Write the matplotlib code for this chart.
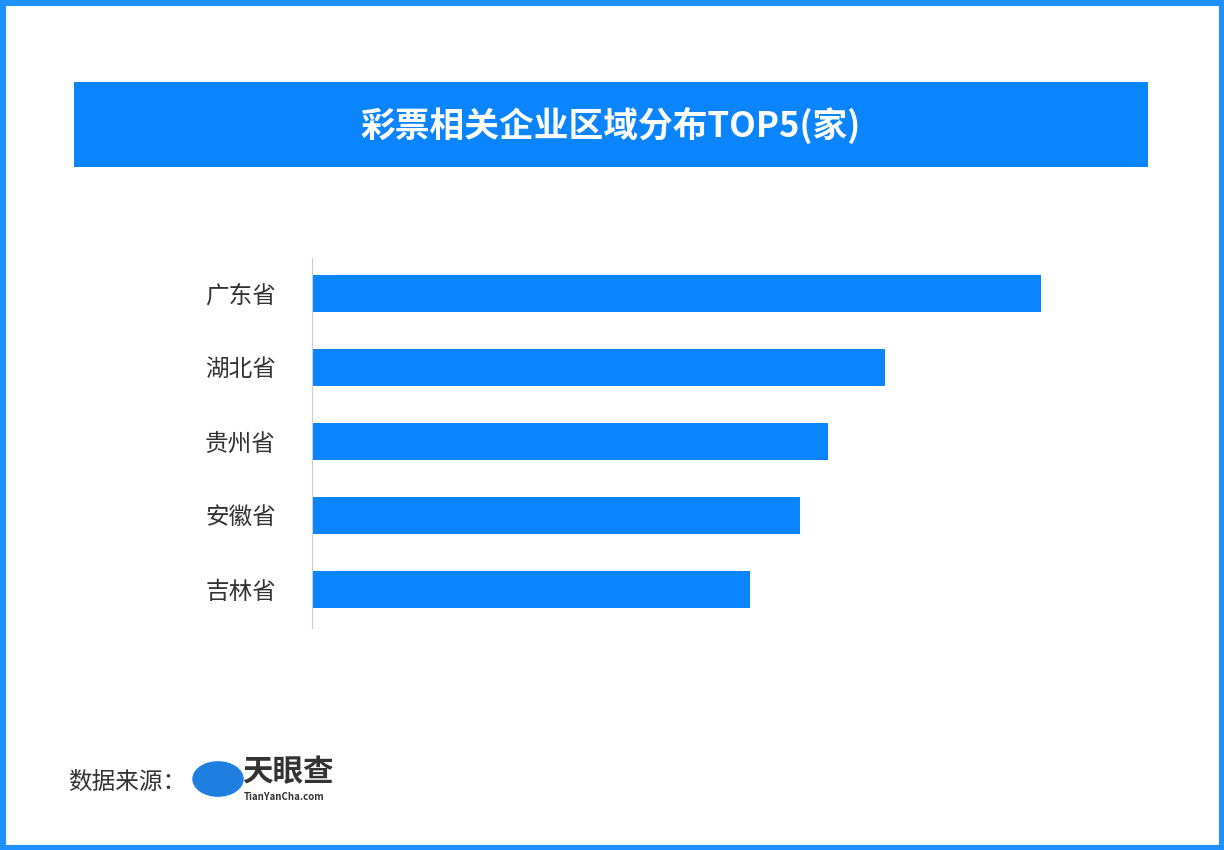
import matplotlib
matplotlib.use("Agg")
import matplotlib.pyplot as plt
from matplotlib.patches import Rectangle, Circle

plt.rcParams['font.family'] = ['Noto Sans CJK SC', 'DejaVu Sans']

categories = ['广东省', '湖北省', '贵州省', '安徽省', '吉林省']
values = [729, 573, 516, 488, 438]
title = '彩票相关企业区域分布TOP5(家)'
blue = '#0A84FF'

W, H = 1224, 850
fig = plt.figure(figsize=(W/100, H/100), dpi=100)
fig.patches.append(Rectangle((0, 0), 1, 1, transform=fig.transFigure, fill=False,
                             edgecolor='#1E90FF', linewidth=8))
fig.patches.append(Rectangle((74/W, 1-167/H), (1148-74)/W, 85/H, transform=fig.transFigure,
                             facecolor='#0A84FF', edgecolor='none'))
fig.text(611/W, 1-125/H, title, color='white', fontsize=25, fontweight='bold',
         ha='center', va='center')

ax = fig.add_axes([312/W, 1-628/H, (1041-312)/W, 370/H])
y = list(range(len(categories)))
ax.barh(y, values, height=0.5, color=blue)
ax.set_xlim(0, values[0])
ax.set_ylim(len(categories)-1+0.514, -0.486)
ax.set_yticks(y)
ax.set_yticklabels(categories, fontsize=17, color='#333333')
ax.tick_params(axis='y', length=0, pad=26)
ax.set_xticks([])
for s in ['top', 'right', 'bottom']:
    ax.spines[s].set_visible(False)
ax.spines['left'].set_color('#CCCCCC')
ax.patch.set_alpha(0)

fig.text(68/W, 1-782/H, '数据来源：', fontsize=17, color='#333333', va='center')
fig.patches.append(Circle((218/W, 1-779/H), 0.021, transform=fig.transFigure,
                          facecolor='#1E7FE0', edgecolor='none'))
fig.text(242/W, 1-772/H, '天眼查', fontsize=22, fontweight='bold', color='#333333', va='center')
fig.text(244/W, 1-797/H, 'TianYanCha.com', fontsize=7, fontweight='bold', color='#333333', va='center')

fig.savefig('out.png', dpi=100)
